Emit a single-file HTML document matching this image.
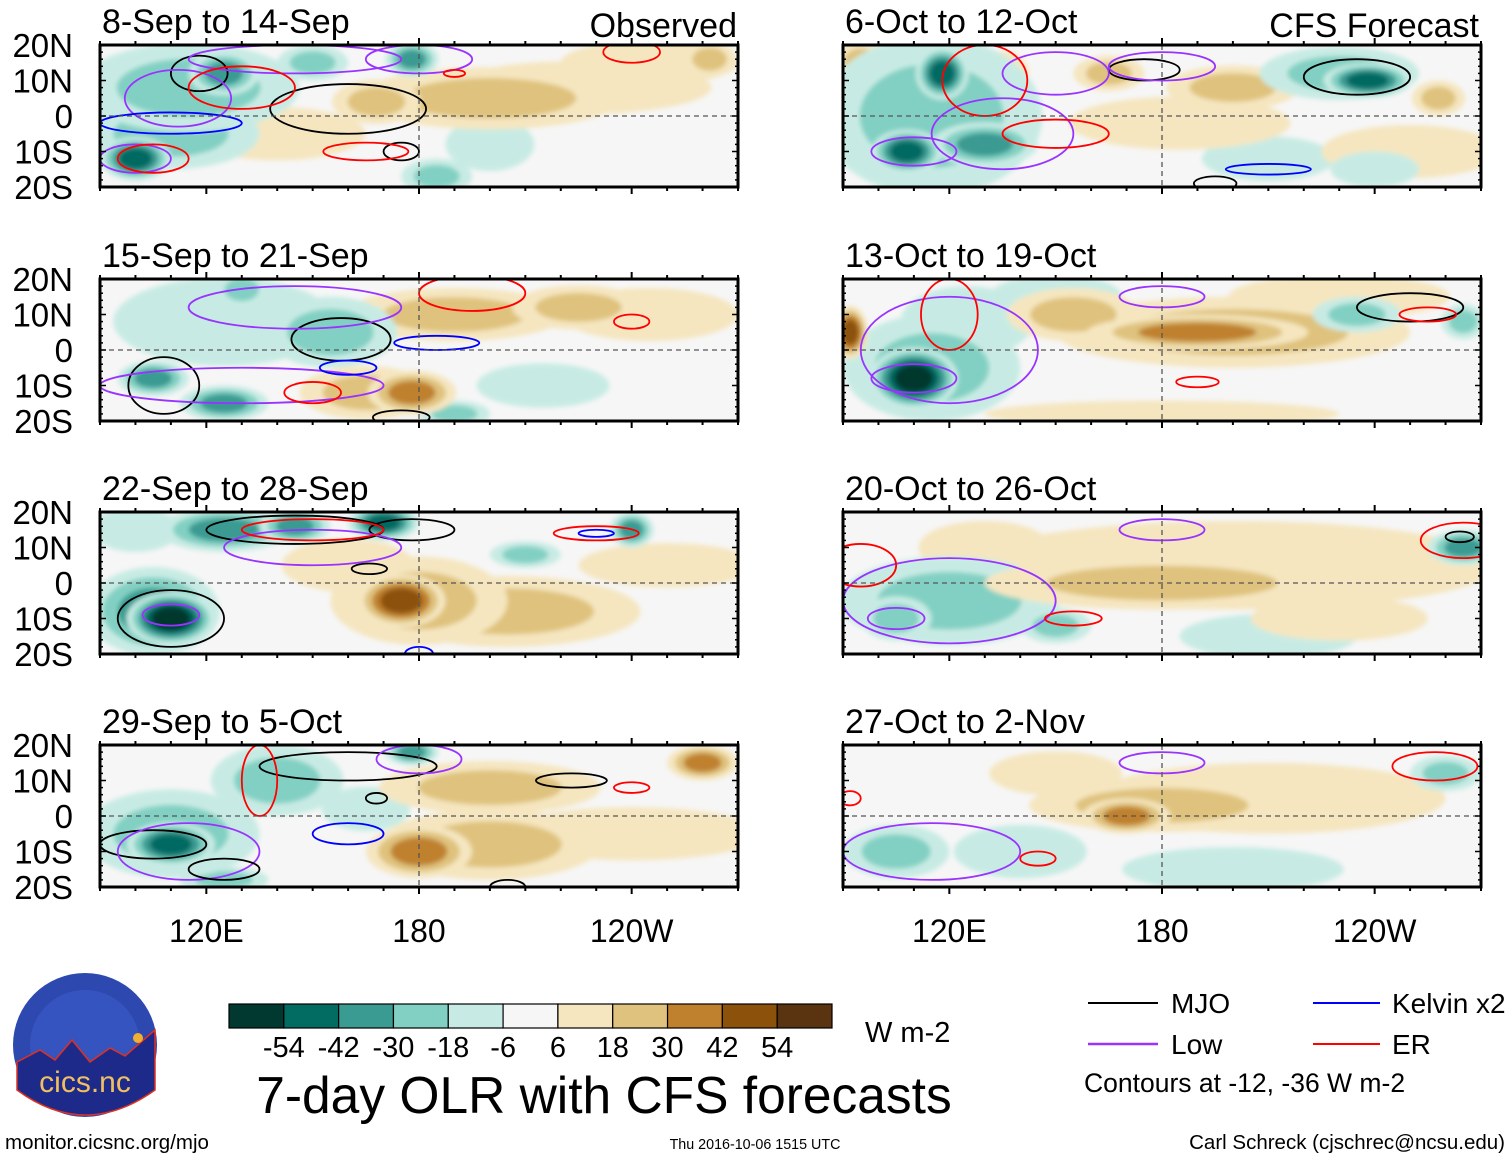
<!DOCTYPE html>
<html><head><meta charset="utf-8">
<style>
html,body{margin:0;padding:0;background:#fff;}
body{width:1510px;height:1159px;overflow:hidden;font-family:"Liberation Sans",sans-serif;}
svg text{font-family:"Liberation Sans",sans-serif;fill:#000;}
</style></head>
<body>
<svg id="chart" width="1510" height="1159" viewBox="0 0 1510 1159" xmlns="http://www.w3.org/2000/svg">
<defs>
<filter id="soft" x="-20%" y="-20%" width="140%" height="140%"><feGaussianBlur stdDeviation="2.5"/></filter>
</defs>
<g id="panels"></g>
<g id="colorbar"></g>
<text x="865" y="1042" font-size="29">W m-2</text>
<text x="604" y="1113" font-size="51.5" text-anchor="middle">7-day OLR with CFS forecasts</text>
<g>
<line x1="1088" y1="1003" x2="1158" y2="1003" stroke="#000" stroke-width="2"/>
<text x="1171" y="1013" font-size="28">MJO</text>
<line x1="1313" y1="1003" x2="1380" y2="1003" stroke="#0000ff" stroke-width="2"/>
<text x="1392" y="1013" font-size="28">Kelvin x2</text>
<line x1="1088" y1="1044" x2="1158" y2="1044" stroke="#9933ff" stroke-width="2.5"/>
<text x="1171" y="1054" font-size="28">Low</text>
<line x1="1313" y1="1044" x2="1380" y2="1044" stroke="#ff0000" stroke-width="2"/>
<text x="1392" y="1054" font-size="28">ER</text>
<text x="1084" y="1092" font-size="26.5">Contours at -12, -36 W m-2</text>
</g>
<g>
<circle cx="85" cy="1045" r="72" fill="#2d49b0"/>
<circle cx="85" cy="1045" r="55" fill="#3c5ccc" opacity="0.6"/>
<path d="M17,1062 L40,1050 L55,1060 L72,1040 L90,1062 L110,1048 L125,1056 L155,1030 L155,1090 Q85,1140 17,1090 Z" fill="#1d2a8a" stroke="#e03020" stroke-width="1.5"/>
<circle cx="138" cy="1038" r="5" fill="#f0b030"/>
<text x="85" y="1092" font-size="30" text-anchor="middle" style="fill:#f0c060">cics.nc</text>
</g>
<text x="5" y="1149" font-size="20.5">monitor.cicsnc.org/mjo</text>
<text x="755" y="1149" font-size="14.3" text-anchor="middle">Thu 2016-10-06 1515 UTC</text>
<text x="1505" y="1149" font-size="20.5" text-anchor="end">Carl Schreck (cjschrec@ncsu.edu)</text>
</svg>
<script>
const panelTitles=["8-Sep to 14-Sep","6-Oct to 12-Oct","15-Sep to 21-Sep","13-Oct to 19-Oct","22-Sep to 28-Sep","20-Oct to 26-Oct","29-Sep to 5-Oct","27-Oct to 2-Nov"];
const latTicks=["20N","10N","0","10S","20S"];
const latVals=[20,10,0,-10,-20];
const lonTicks=["120E","180","120W"];
const lonVals=[120,180,240];
const cbLevels=[-54,-42,-30,-18,-6,6,18,30,42,54];
const cbColors=["#01382f","#026b62","#3a9b93","#82d0c3","#c7ebe4","#f6f6f6","#f5e6c0","#dfc27d","#bf812d","#8c510a","#5a3410"];
// blobs: panel, lon, lat, value, rlon, rlat
const blobPanel=[0,0,0,0,0,0,0,0,0,0,0,0,0,0, 1,1,1,1,1,1,1,1,1,1,1,1,1,1,1, 2,2,2,2,2,2,2,2,2,2,2,2, 3,3,3,3,3,3,3,3,3,3,3,3, 4,4,4,4,4,4,4,4,4,4,4,4,4, 5,5,5,5,5,5,5,5,5, 6,6,6,6,6,6,6,6,6,6,6, 7,7,7,7,7,7,7,7];
const blobLon=[115,125,100,110,150,178,168,200,225,245,262,185,200,140, 115,118,108,130,135,165,185,200,238,230,258,250,210,95,240, 105,125,125,155,178,165,190,225,245,215,190,130, 92,110,115,125,190,200,155,230,235,265,180,150, 110,105,125,145,170,175,180,205,210,240,250,160,100, 120,105,180,200,265,130,150,210,230, 110,110,140,178,180,200,200,260,165,240,125, 105,170,180,210,260,150,200,140];
const blobLat=[8,12,-12,-5,15,16,4,5,8,15,16,-17,-8,-5, 0,12,-10,-8,12,12,-2,8,10,12,5,-10,-12,15,-15, -8,-15,8,5,-12,-12,10,12,10,-10,-18,17, 5,-8,-5,8,5,5,10,15,10,8,-18,15, -10,-8,15,16,17,-5,-5,-8,8,15,5,5,15, -5,-10,0,5,10,10,-12,-15,-10, -8,-5,10,18,-10,-8,8,15,2,-5,-18, -10,0,3,5,12,12,-15,-10];
const blobVal=[-25,-40,-45,-20,-30,-35,30,20,15,18,30,-20,-10,15, -30,-50,-45,-40,25,25,15,20,-45,-20,30,15,-10,20,-15, -40,-35,-15,-25,40,25,20,20,15,-10,-25,-20, 50,-55,-30,-15,35,20,20,15,-20,-30,15,-10, -55,-35,-35,-40,-45,45,30,20,-25,-35,15,15,-15, -20,-30,25,15,-40,15,-25,-10,15, -50,-30,-25,-40,35,25,20,40,-15,15,-20, -25,35,20,15,-30,15,-10,-10];
const blobRlon=[25,8,8,20,8,6,10,30,30,20,6,8,10,20, 25,6,8,12,6,8,25,15,10,18,6,20,15,6,10, 8,10,25,15,10,15,25,15,20,15,8,6, 4,10,20,15,25,40,15,25,10,5,40,15, 10,15,15,8,8,10,20,30,8,5,20,15,10, 25,8,40,60,8,15,8,20,20, 10,20,15,6,12,25,25,8,10,30,10, 12,10,30,40,8,15,25,15];
const blobRlat=[10,5,5,8,4,4,5,7,6,5,4,4,6,6, 18,6,5,5,5,4,6,5,4,6,4,6,5,5,4, 4,4,10,8,5,6,6,5,6,5,3,4, 6,7,12,8,4,8,6,5,4,4,3,5, 6,10,5,4,4,6,10,8,3,4,5,6,5, 10,5,6,10,4,6,4,5,5, 5,10,8,3,6,8,6,4,5,6,3, 6,4,6,8,4,5,5,6];
// contours: panel, type, lon, lat, rlon, rlat
const cPanel=[0,0,0,0,0,0,0,0,0,0,0,0,0, 1,1,1,1,1,1,1,1,1,1, 2,2,2,2,2,2,2,2,2,2, 3,3,3,3,3,3,3, 4,4,4,4,4,4,4,4,4,4, 5,5,5,5,5,5,5, 6,6,6,6,6,6,6,6,6,6,6, 7,7,7,7,7];
const cType=["M","M","M","L","L","L","L","K","E","E","E","E","E", "M","M","L","L","L","L","E","E","K","M", "M","M","L","L","E","E","K","K","E","M", "L","L","L","E","E","M","E", "M","M","M","M","L","L","E","E","K","K", "L","L","L","E","E","M","E", "M","M","M","M","L","L","K","E","E","M","M", "L","L","E","E","E"];
const cLon=[160,118,175,145,180,112,100,110,130,165,105,240,190, 175,235,180,150,110,135,130,150,210,195, 158,108,145,130,150,195,185,160,240,175, 110,180,120,120,190,250,255, 110,145,178,166,110,150,150,230,230,180, 180,120,105,95,155,264,265, 105,160,223,168,180,115,160,240,135,125,205, 180,115,257,145,92];
const cLat=[2,12,-10,16,16,5,-12,-2,8,-10,-12,18,12, 13,11,14,12,-10,-5,10,-5,-15,-19, 3,-10,12,-10,-12,16,2,-5,8,-19, -8,15,0,10,-9,12,10, -10,15,15,4,-9,10,15,14,14,-20, 15,-5,-10,5,-10,13,12, -8,14,10,5,16,-10,-5,8,10,-15,-20, 15,-10,14,-12,5];
const cRlon=[22,8,5,30,15,15,10,20,15,12,10,8,3, 10,15,15,15,12,20,12,15,12,6, 14,10,30,40,8,15,12,8,5,8, 12,12,25,8,6,15,8, 15,25,12,5,8,25,20,12,5,4, 12,30,8,10,8,4,12, 15,25,10,3,12,20,10,5,5,10,5, 12,25,12,5,3];
const cRlat=[7,5,2.5,4,4,8,4,3,6,2.5,4,3,1, 3,5,4,6,4,10,10,4,1.5,2, 6,8,6,5,3,5,2,2,2,2, 4,3,15,10,1.5,4,2, 8,4,3,1.5,3,5,3,2,1,2, 3,12,3,6,2,1.5,5, 4,4,2,1.5,4,8,3,1.5,10,3,2, 3,8,4,2,2];
const PX=[100,843], PY=[45,279,512,745], PW=638, PH=142;
const typeColor={M:"#000000",L:"#9933ff",K:"#0000ff",E:"#ff0000"};
const NS="http://www.w3.org/2000/svg";
function panelX(p){return PX[p%2];}
function panelY(p){return PY[Math.floor(p/2)];}
function xScale(p,lon){return panelX(p)+(lon-90)/180*PW;}
function yScale(p,lat){return panelY(p)+(20-lat)/40*PH;}
function colorFor(v){let i=0;while(i<cbLevels.length&&v>cbLevels[i])i++;return cbColors[i];}
function mk(tag,attrs,parent){const e=document.createElementNS(NS,tag);for(const k in attrs)e.setAttribute(k,attrs[k]);parent.appendChild(e);return e;}
const root=document.getElementById("panels");
for(let p=0;p<8;p++){
  const g=mk("g",{},root);
  
  
  const x0=panelX(p),y0=panelY(p);
  const cp=mk("clipPath",{id:"clip"+p},g);
  mk("rect",{x:x0,y:y0,width:PW,height:PH},cp);
  const inner=mk("g",{"clip-path":"url(#clip"+p+")"},g);
  mk("rect",{x:x0,y:y0,width:PW,height:PH,fill:"#f6f6f6"},inner);
  const fg=mk("g",{filter:"url(#soft)"},inner);
  const idx=[];for(let i=0;i<blobPanel.length;i++)if(blobPanel[i]===p)idx.push(i);
  idx.sort((a,b)=>Math.abs(blobVal[a])-Math.abs(blobVal[b]));
  for(const i of idx){
    const v=blobVal[i];
    const steps=[];for(const l of [6,18,30,42,54])if(Math.abs(v)>l)steps.push(l);
    steps.push(Math.abs(v));
    const n=steps.length;
    for(let k=0;k<n-1;k++){
      const f=1.25*(1-k/(n-1)*0.7);
      const val=Math.sign(v)*(steps[k]+1);
      const el=mk("ellipse",{cx:xScale(p,blobLon[i]),cy:yScale(p,blobLat[i]),rx:blobRlon[i]/180*PW*f,ry:blobRlat[i]/40*PH*f,fill:colorFor(val)},fg);
      
      
    }
  }
  for(let i=0;i<cPanel.length;i++){
    if(cPanel[i]!==p)continue;
    const el=mk("ellipse",{cx:xScale(p,cLon[i]),cy:yScale(p,cLat[i]),rx:cRlon[i]/180*PW,ry:cRlat[i]/40*PH,fill:"none",stroke:typeColor[cType[i]],"stroke-width":1.8},inner);
    
    
  }
  mk("line",{x1:x0,x2:x0+PW,y1:yScale(p,0),y2:yScale(p,0),stroke:"#555","stroke-dasharray":"5,4","stroke-width":1.3},inner);
  mk("line",{x1:xScale(p,180),x2:xScale(p,180),y1:y0,y2:y0+PH,stroke:"#555","stroke-dasharray":"5,4","stroke-width":1.3},inner);
  mk("rect",{x:x0,y:y0,width:PW,height:PH,fill:"none",stroke:"#000","stroke-width":3},g);
  for(let lon=90;lon<=270;lon+=10){
    const x=xScale(p,lon),len=(lon%60===0)?7:4;
    mk("line",{x1:x,x2:x,y1:y0,y2:y0-len,stroke:"#000","stroke-width":2},g);
    mk("line",{x1:x,x2:x,y1:y0+PH,y2:y0+PH+len,stroke:"#000","stroke-width":2},g);
  }
  for(let lat=-20;lat<=20;lat+=2){
    const y=yScale(p,lat),len=(lat%10===0)?6:3;
    mk("line",{x1:x0,x2:x0+len,y1:y,y2:y,stroke:"#000","stroke-width":1.5},g);
    mk("line",{x1:x0+PW,x2:x0+PW-len,y1:y,y2:y,stroke:"#000","stroke-width":1.5},g);
  }
  const t=mk("text",{x:x0+2,y:y0-12,"font-size":34},g);
  t.textContent=panelTitles[p];
  
  
  if(p%2===0){
    for(let k=0;k<latTicks.length;k++){
      const lt=mk("text",{x:73,y:yScale(p,latVals[k])+12,"font-size":33,"text-anchor":"end"},g);
      lt.textContent=latTicks[k];
      
      
    }
  }
  if(p>=6){
    for(let k=0;k<lonTicks.length;k++){
      const lt=mk("text",{x:xScale(p,lonVals[k]),y:942,"font-size":32,"text-anchor":"middle"},g);
      lt.textContent=lonTicks[k];
      
      
    }
  }
}
const obs=mk("text",{x:737,y:37,"font-size":34,"text-anchor":"end"},root);
obs.textContent="Observed";


const cfs=mk("text",{x:1479,y:37,"font-size":34,"text-anchor":"end"},root);
cfs.textContent="CFS Forecast";


const cb=document.getElementById("colorbar");
const cbX=229,cbW=603,cbY=1004,cbH=24,bw=cbW/cbColors.length;
for(let i=0;i<cbColors.length;i++){
  const r=mk("rect",{x:cbX+i*bw,y:cbY,width:bw,height:cbH,fill:cbColors[i],stroke:"#000","stroke-width":1.2},cb);
  
  
}
for(let i=0;i<cbLevels.length;i++){
  const t=mk("text",{x:cbX+(i+1)*bw,y:1057,"font-size":29,"text-anchor":"middle"},cb);
  t.textContent=cbLevels[i];
  
  
}
</script>
</body></html>
